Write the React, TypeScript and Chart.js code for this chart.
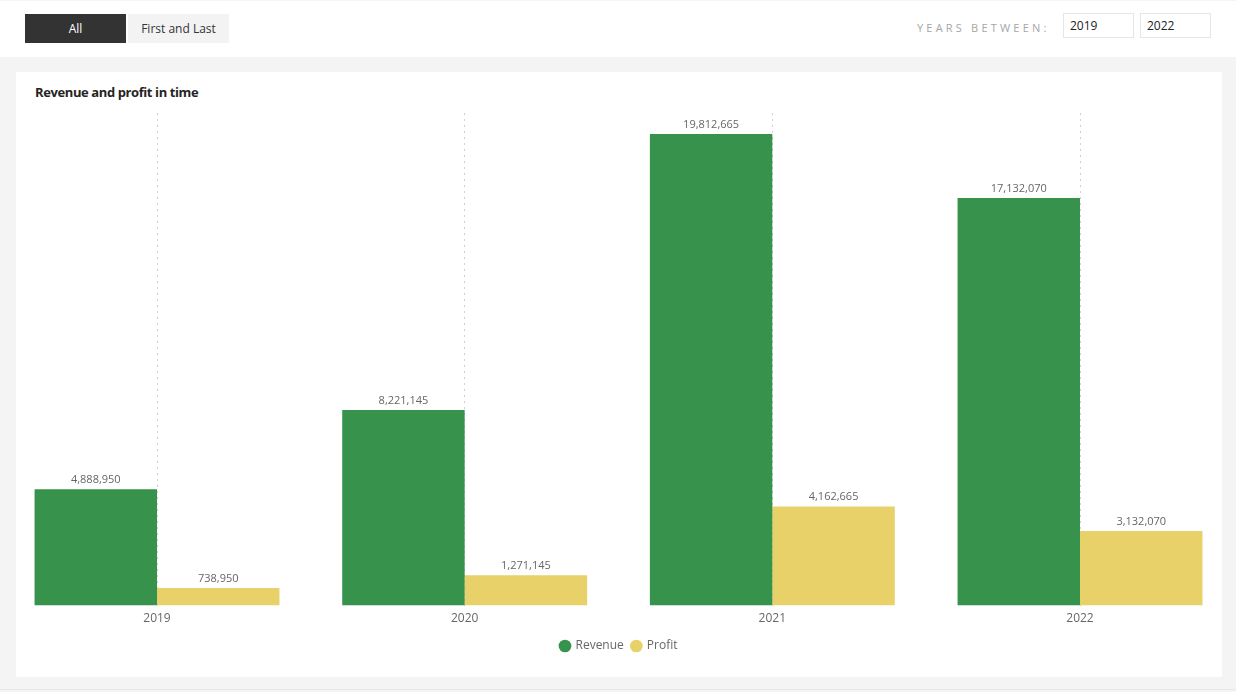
import React, { useEffect, useRef } from "react";
import { Chart, registerables } from "chart.js";

Chart.register(...registerables);

const years = ["2019", "2020", "2021", "2022"];
const revenue = [4888950, 8221145, 19812665, 17132070];
const profit = [738950, 1271145, 4162665, 3132070];
const seriesNames = ["Revenue", "Profit"];
const seriesColors = ["#37934c", "#e8d168"];

const FONT = "'Segoe UI', 'Open Sans', sans-serif";

const fmt = (v: number) => v.toLocaleString("en-US");

const dataLabels = {
  id: "dataLabels",
  afterDatasetsDraw(chart: any) {
    const ctx = chart.ctx;
    ctx.save();
    ctx.font = `11px ${FONT}`;
    ctx.fillStyle = "#666666";
    ctx.textAlign = "center";
    ctx.textBaseline = "bottom";
    chart.data.datasets.forEach((ds: any, i: number) => {
      const meta = chart.getDatasetMeta(i);
      meta.data.forEach((el: any, j: number) => {
        const raw = ds.data[j];
        const v = typeof raw === "object" ? raw.y : raw;
        ctx.fillText(fmt(v), el.x, el.y - 4);
      });
    });
    ctx.restore();
  },
};

function BarChart() {
  const ref = useRef<HTMLCanvasElement | null>(null);
  useEffect(() => {
    if (!ref.current) return;
    const chart = new Chart(ref.current, {
      type: "bar",
      data: {
        datasets: [
          {
            label: seriesNames[0],
            data: revenue.map((v, i) => ({ x: i, y: v })),
            backgroundColor: seriesColors[0],
            categoryPercentage: 0.796,
            barPercentage: 1,
          },
          {
            label: seriesNames[1],
            data: profit.map((v, i) => ({ x: i, y: v })),
            backgroundColor: seriesColors[1],
            categoryPercentage: 0.796,
            barPercentage: 1,
          },
        ],
      },
      options: {
        animation: false,
        responsive: false,
        maintainAspectRatio: false,
        layout: { padding: { top: 13, left: 0, right: 0, bottom: 0 } },
        plugins: {
          legend: {
            position: "bottom",
            labels: {
              usePointStyle: true,
              pointStyle: "circle",
              boxWidth: 9,
              boxHeight: 9,
              padding: 8,
              color: "#666666",
              font: { family: FONT, size: 12 },
            },
          },
          tooltip: { enabled: false },
        },
        scales: {
          x: {
            type: "linear",
            min: -0.4583,
            max: 3.4615,
            offset: false,
            grid: {
              display: true,
              offset: false,
              color: "#cfcfcf",
              lineWidth: 1,
              drawTicks: false,
            },
            border: { display: false, dash: [2, 4] },
            ticks: {
              stepSize: 1,
              includeBounds: false,
              autoSkip: false,
              maxRotation: 0,
              padding: 6,
              color: "#666666",
              font: { family: FONT, size: 12 },
              callback: (v: any) => (Number.isInteger(v) ? years[v] ?? "" : ""),
            },
          },
          y: {
            display: false,
            min: 0,
            max: 20700000,
          },
        },
      },
      plugins: [dataLabels],
    });
    return () => chart.destroy();
  }, []);
  return <canvas ref={ref} width={1206} height={562} style={{ display: "block" }} />;
}

export default function App() {
  useEffect(() => {
    document.body.style.margin = "0";
  }, []);
  const btn: React.CSSProperties = {
    position: "absolute",
    top: 14,
    height: 29,
    width: 101,
    display: "flex",
    alignItems: "center",
    justifyContent: "center",
    fontFamily: FONT,
    fontSize: 12,
  };
  const input: React.CSSProperties = {
    position: "absolute",
    top: 13,
    height: 25,
    width: 71,
    border: "1px solid #e6e6e6",
    boxSizing: "border-box",
    background: "#fff",
    fontFamily: FONT,
    fontSize: 12,
    color: "#222",
    display: "flex",
    alignItems: "center",
    paddingLeft: 6,
  };
  return (
    <div style={{ position: "fixed", left: 0, top: 0, width: 1236, height: 692, background: "#f4f4f4", overflow: "hidden" }}>
      <div style={{ position: "absolute", left: 0, top: 1, width: 1236, height: 56, background: "#ffffff" }} />
      <div style={{ ...btn, left: 25, background: "#333333", color: "#ffffff" }}>All</div>
      <div style={{ ...btn, left: 128, background: "#f3f3f3", color: "#333333" }}>First and Last</div>
      <div
        style={{
          position: "absolute",
          left: 917,
          top: 20,
          fontFamily: FONT,
          fontSize: 11,
          letterSpacing: 3.2,
          color: "#a6a6a6",
          whiteSpace: "nowrap",
        }}
      >
        YEARS BETWEEN:
      </div>
      <div style={{ ...input, left: 1063 }}>2019</div>
      <div style={{ ...input, left: 1140 }}>2022</div>
      <div style={{ position: "absolute", left: 16, top: 72, width: 1206, height: 605, background: "#ffffff" }}>
        <div
          style={{
            position: "absolute",
            left: 19,
            top: 11,
            fontFamily: FONT,
            fontSize: 13,
            fontWeight: 700,
            letterSpacing: -0.4,
            color: "#252423",
            whiteSpace: "nowrap",
          }}
        >
          Revenue and profit in time
        </div>
        <div style={{ position: "absolute", left: 0, top: 28 }}>
          <BarChart />
        </div>
      </div>
      <div style={{ position: "absolute", left: 0, top: 689, width: 1236, height: 1, background: "#e8e8e8" }} />
    </div>
  );
}
